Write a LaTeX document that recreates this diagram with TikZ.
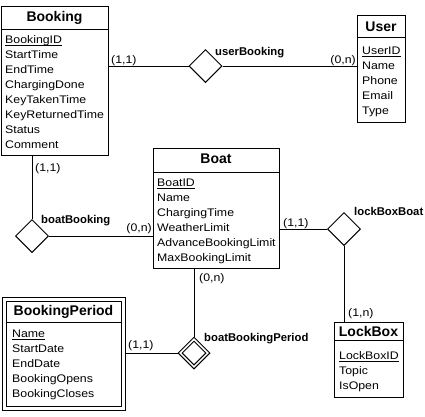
\documentclass[tikz,border=0pt]{standalone}
\usepackage{fontspec}
\setmainfont{Liberation Sans}
\newfontfamily\attrfam[FakeStretch=1.12]{Liberation Sans}
\newcommand\myattr{\attrfam\fontsize{11}{13}\selectfont}
\newcommand\mytitle{\fontsize{14}{16}\selectfont\bfseries}
\newcommand\mylabel{\fontsize{11.3}{13}\selectfont\bfseries}
\usetikzlibrary{shapes.geometric}
\tikzset{
  entity/.style={draw, line width=1pt, rectangle, inner sep=0pt, anchor=north west},
  etitle/.style={font=\mytitle, anchor=base, inner sep=0pt},
  attr/.style={font=\myattr, anchor=base west, inner sep=0pt},
  rel/.style={draw, diamond, aspect=1, minimum width=33pt, minimum height=33pt, inner sep=0pt, line width=1pt},
  rlabel/.style={font=\mylabel, anchor=base west, inner sep=0pt},
  card/.style={font=\myattr, inner sep=0pt},
  link/.style={line width=1pt},
  keyline/.style={line width=0.9pt}
}
\begin{document}
\begin{tikzpicture}[x=1pt,y=-1pt]
\useasboundingbox (0,0) rectangle (425,416);

% ---------- Booking ----------
\node[entity, minimum width=107pt, minimum height=149pt] (booking) at (1,6) {};
\coordinate (bksep) at (1,29);
\draw[link] (bksep) -- (bksep -| booking.east);
\node[etitle] (bktitle) at (54.5,21) {Booking};
\node[attr] (bkid) at (5,43.5) {BookingID};
\draw[keyline] ([yshift=-2pt]bkid.base west) -- ([yshift=-2pt]bkid.base east);
\foreach \t [count=\i from 1] in {StartTime,EndTime,ChargingDone,KeyTakenTime,KeyReturnedTime,Status,Comment}
  \node[attr] (bk\i) at (5,43.5+15*\i) {\t};

% ---------- User ----------
\node[entity, minimum width=48pt, minimum height=107pt] (user) at (357,15) {};
\coordinate (usep) at (357,37);
\draw[link] (usep) -- (usep -| user.east);
\node[etitle] (utitle) at (381,31) {User};
\node[attr] (uid) at (362,54.5) {UserID};
\draw[keyline] ([yshift=-2pt]uid.base west) -- ([yshift=-2pt]uid.base east);
\foreach \t [count=\i from 1] in {Name,Phone,Email,Type}
  \node[attr] (us\i) at (362,54.5+15*\i) {\t};

% ---------- Boat ----------
\node[entity, minimum width=126pt, minimum height=120pt] (boat) at (153,148) {};
\coordinate (bosep) at (153,172);
\draw[link] (bosep) -- (bosep -| boat.east);
\node[etitle] (botitle) at (216,163) {Boat};
\node[attr] (boid) at (157,186) {BoatID};
\draw[keyline] ([yshift=-2pt]boid.base west) -- ([yshift=-2pt]boid.base east);
\foreach \t [count=\i from 1] in {Name,ChargingTime,WeatherLimit,AdvanceBookingLimit,MaxBookingLimit}
  \node[attr] (bo\i) at (157,186+15*\i) {\t};

% ---------- LockBox ----------
\node[entity, minimum width=69pt, minimum height=75pt] (lockbox) at (334,322) {};
\coordinate (lbsep) at (334,340);
\draw[link] (lbsep) -- (lbsep -| lockbox.east);
\node[etitle] (lbtitle) at (368.5,336) {LockBox};
\node[attr] (lbid) at (339,359) {LockBoxID};
\draw[keyline] ([yshift=-2pt]lbid.base west) -- ([yshift=-2pt]lbid.base east);
\foreach \t [count=\i from 1] in {Topic,IsOpen}
  \node[attr] (lb\i) at (339,359+15*\i) {\t};

% ---------- BookingPeriod (weak entity) ----------
\node[entity, minimum width=123pt, minimum height=113pt] (bperiod) at (2,297) {};
\node[entity, minimum width=115pt, minimum height=105pt] (bperiodin) at (6,301) {};
\coordinate (bpsep) at (6,322);
\draw[link] (bpsep) -- (bpsep -| bperiodin.east);
\node[etitle] (bptitle) at (63.5,315) {BookingPeriod};
\node[attr] (bpid) at (12,337) {Name};
\draw[keyline] ([yshift=-2pt]bpid.base west) -- ([yshift=-2pt]bpid.base east);
\foreach \t [count=\i from 1] in {StartDate,EndDate,BookingOpens,BookingCloses}
  \node[attr] (bp\i) at (12,337+15*\i) {\t};

% ---------- Relationships ----------
\node[rel] (ub) at (205.5,66) {};
\node[rlabel] (ublabel) at (215,55) {userBooking};
\node[rel] (bb) at (32,236) {};
\node[rlabel] (bblabel) at (41,223) {boatBooking};
\node[rel] (lbb) at (344,229) {};
\node[rlabel] (lbblabel) at (354,215) {lockBoxBoat};
\node[rel, minimum width=32pt, minimum height=32pt] (bbp) at (194,353) {};
\node[rel, minimum width=24pt, minimum height=24pt] (bbpin) at (194,353) {};
\node[rlabel] (bbplabel) at (204,341) {boatBookingPeriod};

% ---------- Connectors ----------
\draw[link] (ub.west -| booking.east) -- (ub.west);
\draw[link] (ub.east) -- (ub.east -| user.west);
\draw[link] (bb.north |- booking.south) -- (bb.north);
\draw[link] (bb.east) -- (bb.east -| boat.west);
\draw[link] (lbb.west -| boat.east) -- (lbb.west);
\draw[link] (lbb.south) -- (lbb.south |- lockbox.north);
\draw[link] (bbp.north |- boat.south) -- (bbp.north);
\draw[link] (bbp.west -| bperiod.east) -- (bbp.west);

% ---------- Cardinalities ----------
\node[card, anchor=base west] (c1) at (111,63) {(1,1)};
\node[card, anchor=base east] (c2) at (356,63) {(0,n)};
\node[card, anchor=base west] (c3) at (35,171) {(1,1)};
\node[card, anchor=base east] (c4) at (152,231) {(0,n)};
\node[card, anchor=base west] (c5) at (283,226) {(1,1)};
\node[card, anchor=base west] (c6) at (199,281) {(0,n)};
\node[card, anchor=base west] (c7) at (348,316) {(1,n)};
\node[card, anchor=base west] (c8) at (128,348) {(1,1)};
\end{tikzpicture}
\end{document}
